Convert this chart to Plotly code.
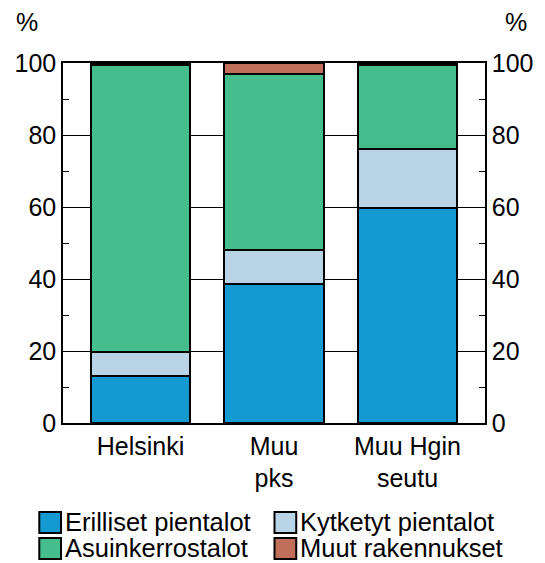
import plotly.graph_objects as go

categories = ["Helsinki", "Muu<br>pks", "Muu Hgin<br>seutu"]
series_names = ["Erilliset pientalot", "Kytketyt pientalot", "Asuinkerrostalot", "Muut rakennukset"]
erilliset = [13.0, 38.6, 59.7]
kytketyt = [6.6, 9.5, 16.3]
asuinkerrostalot = [79.9, 48.9, 23.4]
muut = [0.5, 3.0, 0.6]
y_tickvals = [0, 20, 40, 60, 80, 100]

colors = ["#1499D0", "#B8D4E6", "#45BD8C", "#C0705A"]
series = [erilliset, kytketyt, asuinkerrostalot, muut]

W, H = 545, 563
L, R, T, B = 63, 490, 63, 423
FONT = "Liberation Sans, Arial, sans-serif"

fig = go.Figure()
xpos = list(range(len(categories)))
for name, vals, col in zip(series_names, series, colors):
    fig.add_trace(go.Bar(
        x=xpos, y=vals, name=name, width=0.748,
        marker=dict(color=col, line=dict(color="black", width=2)),
        showlegend=False, yaxis="y",
    ))
# invisible trace to anchor right axis
fig.add_trace(go.Scatter(x=[0], y=[0], yaxis="y2", mode="markers",
                         marker=dict(opacity=0), showlegend=False, hoverinfo="skip"))

def px_x(p):
    return (p - L) / (R - L)

def px_y(p):
    return (B - p) / (B - T)

shapes = []
annotations = []
legend_pos = [(39, 512), (277, 512), (39, 538), (277, 538)]
for (lx, ly), name, col in zip(legend_pos, series_names, colors):
    shapes.append(dict(type="rect", xref="paper", yref="paper",
                       x0=px_x(lx), x1=px_x(lx + 22), y0=px_y(ly + 21), y1=px_y(ly),
                       fillcolor=col, line=dict(color="black", width=2)))
    annotations.append(dict(xref="paper", yref="paper", x=px_x(lx + 24), y=px_y(ly + 10),
                            text=name, showarrow=False, xanchor="left", yanchor="middle",
                            font=dict(size=25.5, family=FONT, color="black")))
annotations.append(dict(xref="paper", yref="paper", x=px_x(27), y=px_y(22), text="%",
                        showarrow=False, xanchor="center", yanchor="middle",
                        font=dict(size=25, family=FONT, color="black")))
annotations.append(dict(xref="paper", yref="paper", x=px_x(521), y=px_y(22), text="%",
                        showarrow=False, xanchor="center", yanchor="middle",
                        font=dict(size=25, family=FONT, color="black")))

yaxis_common = dict(
    range=[0, 100], tickvals=y_tickvals, ticks="", zeroline=False,
    gridcolor="black", gridwidth=1,
    showline=True, linecolor="black", linewidth=1.5,
    tickfont=dict(size=25, family=FONT, color="black"),
    minor=dict(tickvals=[10, 30, 50, 70, 90], ticks="inside", ticklen=6,
               tickcolor="black", tickwidth=1, showgrid=False),
)

fig.update_layout(
    width=W, height=H,
    margin=dict(l=L, r=W - R, t=T, b=H - B, pad=0),
    paper_bgcolor="white", plot_bgcolor="white",
    barmode="stack",
    font=dict(family=FONT, size=25, color="black"),
    xaxis=dict(range=[-0.581, 2.581], tickvals=xpos, ticktext=categories,
               showline=True, linecolor="black", linewidth=1.5, mirror=True,
               ticks="", showgrid=False, zeroline=False,
               tickfont=dict(size=25, family=FONT, color="black")),
    yaxis=dict(side="left", showgrid=True, **yaxis_common),
    yaxis2=dict(side="right", overlaying="y", showgrid=False, **yaxis_common),
    shapes=shapes, annotations=annotations,
)

fig.write_html("out.html", config={"displayModeBar": False},
               post_script="document.body.style.margin='0';document.body.style.overflow='hidden';")
